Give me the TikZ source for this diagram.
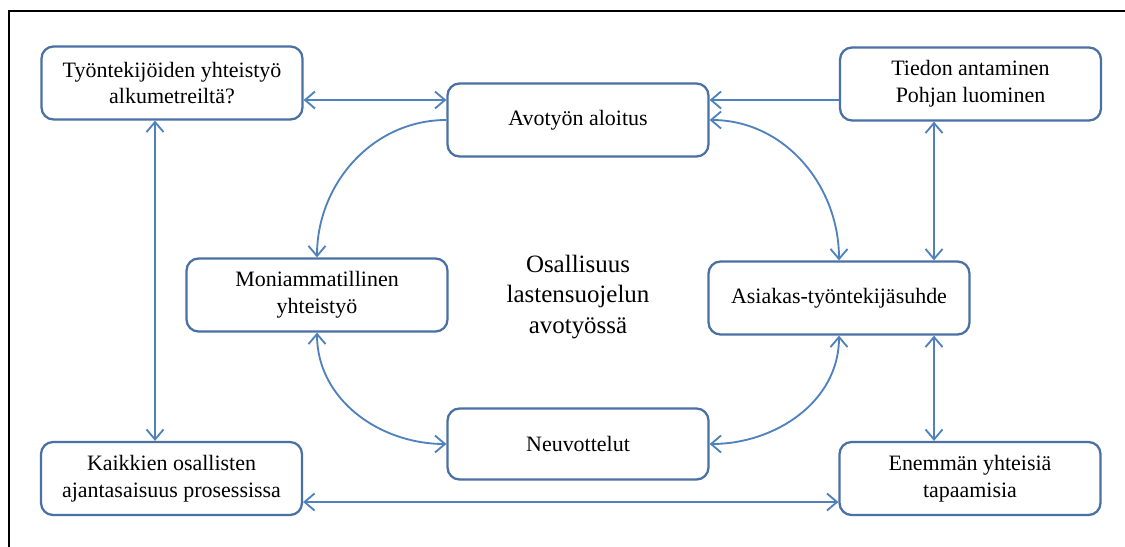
\documentclass[tikz,border=0pt]{standalone}
\usepackage{fontspec}
\setmainfont{Liberation Serif}
\usepackage{xcolor}
\usetikzlibrary{arrows.meta,calc,positioning}
\definecolor{boxblue}{RGB}{74,112,164}
\definecolor{linkblue}{RGB}{79,129,189}
\tikzset{%
	stagebox/.style = {draw=boxblue, line width=1.3pt, rectangle, rounded corners=0.24cm, minimum width=5.22cm, minimum height=1.46cm, align=center, font=\fontsize{12.5}{15.2}\selectfont},
	link/.style     = {draw=linkblue, line width=1.05pt, >={Straight Barb[length=2mm,width=3.4mm]}},
}

\begin{document}
\begin{tikzpicture}[x=0.02cm,y=-0.02cm]
	
	\useasboundingbox (0,0) rectangle (1125,547);
	\draw[line width=1.1pt] (1125,11) -- (9,11) -- (9,547);  % frame
	
	\node[stagebox] (work)   at (172,83)    {Työntekijöiden yhteistyö\\alkumetreiltä?};
	\node[stagebox] (start)  at (578,120)   {Avotyön aloitus};
	\node[stagebox] (info)   at (970.5,84)  {Tiedon antaminen\\Pohjan luominen};
	\node[stagebox] (multi)  at (317,295)   {Moniammatillinen\\yhteistyö};
	\node[stagebox] (client) at (839,298)   {Asiakas-työntekijäsuhde};
	\node[stagebox, minimum height=1.42cm] (negot) at (578,444) {Neuvottelut};
	\node[stagebox] (all)    at (171.5,478.5) {Kaikkien osallisten\\ajantasaisuus prosessissa};
	\node[stagebox] (more)   at (970,478.5) {Enemmän yhteisiä\\tapaamisia};
	
	\node[align=center, font=\fontsize{14.2}{17.6}\selectfont] (topic) at (578,297) {Osallisuus\\lastensuojelun\\avotyössä};
	
	% straight links
	\draw[link,<->] ([yshift=-0.34cm]work.east) -- ([yshift=0.4cm]start.west);
	\draw[link,->] ([yshift=-0.32cm]info.west) -- ([yshift=0.4cm]start.east);
	\draw[link,<->] ([xshift=-0.73cm]info.south) -- ([xshift=-0.73cm]info.south |- client.north);
	\draw[link,<->] ([xshift=-0.72cm]more.north |- client.south) -- ([xshift=-0.72cm]more.north);
	\draw[link,<->] ([xshift=-0.34cm]work.south) -- ([xshift=-0.34cm]work.south |- all.north);
	\draw[link,<->] ([yshift=-0.47cm]all.east) -- ([yshift=-0.47cm]all.east -| more.west);
	
	% the ring
	\draw[link,->] (start.west) to[out=180,in=90] (multi.north);
	\draw[link,<->] (start.east) to[out=0,in=90] (client.north);
	\draw[link,<->] (multi.south) to[out=-90,in=180] (negot.west);
	\draw[link,<->] (client.south) to[out=-90,in=0] (negot.east);
	
\end{tikzpicture}
\end{document}
